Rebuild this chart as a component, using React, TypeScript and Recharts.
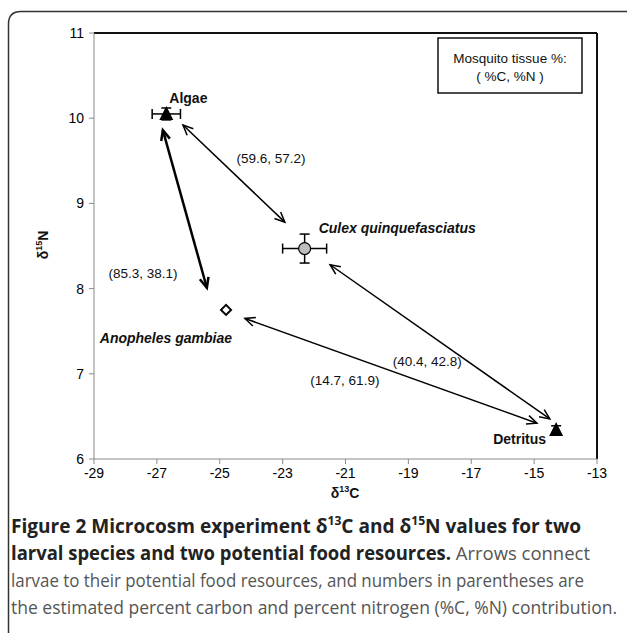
import React from 'react';
import {
  ScatterChart,
  Scatter,
  XAxis,
  YAxis,
  ErrorBar,
  ReferenceLine,
  ReferenceDot,
} from 'recharts';

// points: two food resources + two larval species
const pointNames = ['Algae', 'Culex quinquefasciatus', 'Anopheles gambiae', 'Detritus'];
const d13C = [-26.7, -22.3, -24.8, -14.3];
const d15N = [10.05, 8.47, 7.75, 6.34];
const d13CErr = [0.45, 0.7, 0, 0];
const d15NErr = [0.07, 0.17, 0, 0.05];

// arrows (double headed), data coords of both tips
const arrowFromC = [-26.17, -26.81, -24.2, -21.49];
const arrowFromN = [9.92, 9.86, 7.65, 8.28];
const arrowToC = [-22.93, -25.41, -14.91, -14.5];
const arrowToN = [8.78, 8.01, 6.42, 6.47];
const arrowWidth = [1.5, 2.5, 1.5, 1.5];

// contribution labels (%C, %N)
const contribText = ['(59.6, 57.2)', '(85.3, 38.1)', '(40.4, 42.8)', '(14.7, 61.9)'];
const contribC = [-23.37, -27.44, -18.4, -21.02];
const contribN = [9.53, 8.18, 7.14, 6.92];

const xTicks = [-29, -27, -25, -23, -21, -19, -17, -15, -13];
const yTicks = [6, 7, 8, 9, 10, 11];

const FONT = '"Liberation Sans", Arial, sans-serif';

const pointData = pointNames.map((name, i) => ({
  name,
  x: d13C[i],
  y: d15N[i],
  xErr: d13CErr[i],
  yErr: d15NErr[i],
}));

// label offsets in px relative to the marker
const labelOffset: Record<string, { dx: number; dy: number; anchor: string; italic: boolean }> = {
  Algae: { dx: 3, dy: -16, anchor: 'start', italic: false },
  'Culex quinquefasciatus': { dx: 14, dy: -21, anchor: 'start', italic: true },
  'Anopheles gambiae': { dx: 6, dy: 28, anchor: 'end', italic: true },
  Detritus: { dx: -10, dy: 9, anchor: 'end', italic: false },
};

function PointLabel({ cx, cy, name }: { cx: number; cy: number; name: string }) {
  const o = labelOffset[name];
  return (
    <text
      x={cx + o.dx}
      y={cy + o.dy}
      textAnchor={o.anchor}
      dominantBaseline="central"
      fontFamily={FONT}
      fontSize={14}
      fontWeight="bold"
      fontStyle={o.italic ? 'italic' : 'normal'}
      fill="#111"
    >
      {name}
    </text>
  );
}

const Triangle = (props: any) => {
  const { cx, cy, payload } = props;
  return (
    <g>
      <path d={`M${cx},${cy - 8} L${cx + 7},${cy + 6} L${cx - 7},${cy + 6} Z`} fill="#000" />
      <PointLabel cx={cx} cy={cy} name={payload.name} />
    </g>
  );
};

const Circle = (props: any) => {
  const { cx, cy, payload } = props;
  return (
    <g>
      <circle cx={cx} cy={cy} r={6} fill="#bdbdbd" stroke="#000" strokeWidth={1.2} />
      <PointLabel cx={cx} cy={cy} name={payload.name} />
    </g>
  );
};

const Diamond = (props: any) => {
  const { cx, cy, payload } = props;
  return (
    <g>
      <path
        d={`M${cx},${cy - 5} L${cx + 5},${cy} L${cx},${cy + 5} L${cx - 5},${cy} Z`}
        fill="#fff"
        stroke="#000"
        strokeWidth={2}
      />
      <PointLabel cx={cx} cy={cy} name={payload.name} />
    </g>
  );
};

function head(x: number, y: number, ux: number, uy: number) {
  // open chevron at tip (x,y), pointing along (ux,uy)
  const len = 11;
  const a = 0.42;
  const c = Math.cos(a);
  const s = Math.sin(a);
  const bx1 = x - len * (ux * c - uy * s);
  const by1 = y - len * (uy * c + ux * s);
  const bx2 = x - len * (ux * c + uy * s);
  const by2 = y - len * (uy * c - ux * s);
  return `M${bx1},${by1} L${x},${y} L${bx2},${by2}`;
}

const Arrow = (props: any) => {
  const { x1, y1, x2, y2, strokeWidth } = props;
  const dx = x2 - x1;
  const dy = y2 - y1;
  const l = Math.sqrt(dx * dx + dy * dy) || 1;
  const ux = dx / l;
  const uy = dy / l;
  return (
    <g fill="none" stroke="#000" strokeWidth={strokeWidth}>
      <line x1={x1} y1={y1} x2={x2} y2={y2} />
      <path d={head(x2, y2, ux, uy)} />
      <path d={head(x1, y1, -ux, -uy)} />
    </g>
  );
};

const shapes = [Triangle, Circle, Diamond, Triangle];

export default function App() {
  return (
    <div style={{ position: 'absolute', left: 0, top: 0, width: 627, height: 633, background: '#fff' }}>
      <ScatterChart
        width={627}
        height={633}
        margin={{ top: 33, right: 30, left: 0, bottom: 144 }}
      >
        <XAxis
          type="number"
          dataKey="x"
          domain={[-29, -13]}
          ticks={xTicks}
          height={30}
          stroke="#8a8a8a"
          tickSize={5}
          tickMargin={4}
          tick={{ fontSize: 14, fill: '#000', fontFamily: FONT }}
        />
        <YAxis
          type="number"
          dataKey="y"
          domain={[6, 11]}
          ticks={yTicks}
          width={94}
          stroke="#8a8a8a"
          tickSize={5}
          tickMargin={5}
          tick={{ fontSize: 14, fill: '#000', fontFamily: FONT }}
        />
        <ReferenceLine y={11} stroke="#111" strokeWidth={2} />
        <ReferenceLine x={-13} stroke="#111" strokeWidth={2} />
        {arrowFromC.map((c, i) => (
          <ReferenceLine
            key={`arrow-${i}`}
            segment={[
              { x: c, y: arrowFromN[i] },
              { x: arrowToC[i], y: arrowToN[i] },
            ]}
            strokeWidth={arrowWidth[i]}
            shape={(p: any) => <Arrow {...p} strokeWidth={arrowWidth[i]} />}
          />
        ))}
        {contribText.map((t, i) => (
          <ReferenceDot
            key={`contrib-${i}`}
            x={contribC[i]}
            y={contribN[i]}
            r={0}
            shape={(p: any) => (
              <text
                x={p.cx}
                y={p.cy}
                textAnchor="middle"
                dominantBaseline="central"
                fontFamily={FONT}
                fontSize={13.5}
                fill="#111"
              >
                {t}
              </text>
            )}
          />
        ))}
        {pointData.map((d, i) => (
          <Scatter
            key={d.name}
            name={d.name}
            data={[d]}
            shape={shapes[i]}
            isAnimationActive={false}
          >
            {d.xErr > 0 && (
              <ErrorBar dataKey="xErr" direction="x" width={5} stroke="#000" strokeWidth={1.5} />
            )}
            {d.yErr > 0 && (
              <ErrorBar dataKey="yErr" direction="y" width={5} stroke="#000" strokeWidth={1.5} />
            )}
          </Scatter>
        ))}
      </ScatterChart>

      <svg
        width={627}
        height={633}
        style={{ position: 'absolute', left: 0, top: 0, pointerEvents: 'none' }}
      >
        {/* figure frame */}
        <path
          d="M8.5,640 L8.5,24 Q8.5,11.5 21,11.5 L640,11.5"
          fill="none"
          stroke="#333"
          strokeWidth={1.5}
        />
        {/* annotation box */}
        <rect x={438} y={38} width={144} height={55} fill="#fff" stroke="#111" strokeWidth={1.5} />
        <text x={510} y={58} textAnchor="middle" dominantBaseline="central" fontFamily={FONT} fontSize={13.5} fill="#111">
          Mosquito tissue %:
        </text>
        <text x={510} y={76} textAnchor="middle" dominantBaseline="central" fontFamily={FONT} fontSize={13.5} fill="#111">
          ( %C, %N )
        </text>
        {/* axis titles */}
        <text
          transform="translate(48,245) rotate(-90)"
          textAnchor="middle"
          fontFamily={FONT}
          fontSize={14}
          fontWeight="bold"
          fill="#111"
        >
          δ<tspan fontSize={9} dy={-6}>15</tspan>
          <tspan dy={6}>N</tspan>
        </text>
        <text x={345} y={498} textAnchor="middle" fontFamily={FONT} fontSize={14} fontWeight="bold" fill="#111">
          δ<tspan fontSize={9} dy={-6}>13</tspan>
          <tspan dy={6}>C</tspan>
        </text>
        {/* caption: condensed face imitated with a smaller font stretched to width */}
        <g fontFamily='"Open Sans", sans-serif' fontSize={16.5}>
          <text transform="translate(11,533) scale(1,1.15)" textLength={570} lengthAdjust="spacingAndGlyphs" fontWeight="bold" fill="#222">
            Figure 2 Microcosm experiment δ<tspan fontSize={10.5} dy={-7}>13</tspan>
            <tspan dy={7}>C and δ</tspan>
            <tspan fontSize={10.5} dy={-7}>15</tspan>
            <tspan dy={7}>N values for two</tspan>
          </text>
          <text transform="translate(11,560) scale(1,1.15)" textLength={579} lengthAdjust="spacingAndGlyphs" fill="#555">
            <tspan fontWeight="bold" fill="#222">larval species and two potential food resources.</tspan> Arrows connect
          </text>
          <text transform="translate(11,587) scale(1,1.15)" textLength={573} lengthAdjust="spacingAndGlyphs" fill="#555">
            larvae to their potential food resources, and numbers in parentheses are
          </text>
          <text transform="translate(11,614) scale(1,1.15)" textLength={606} lengthAdjust="spacingAndGlyphs" fill="#555">
            the estimated percent carbon and percent nitrogen (%C, %N) contribution.
          </text>
        </g>
      </svg>
    </div>
  );
}
